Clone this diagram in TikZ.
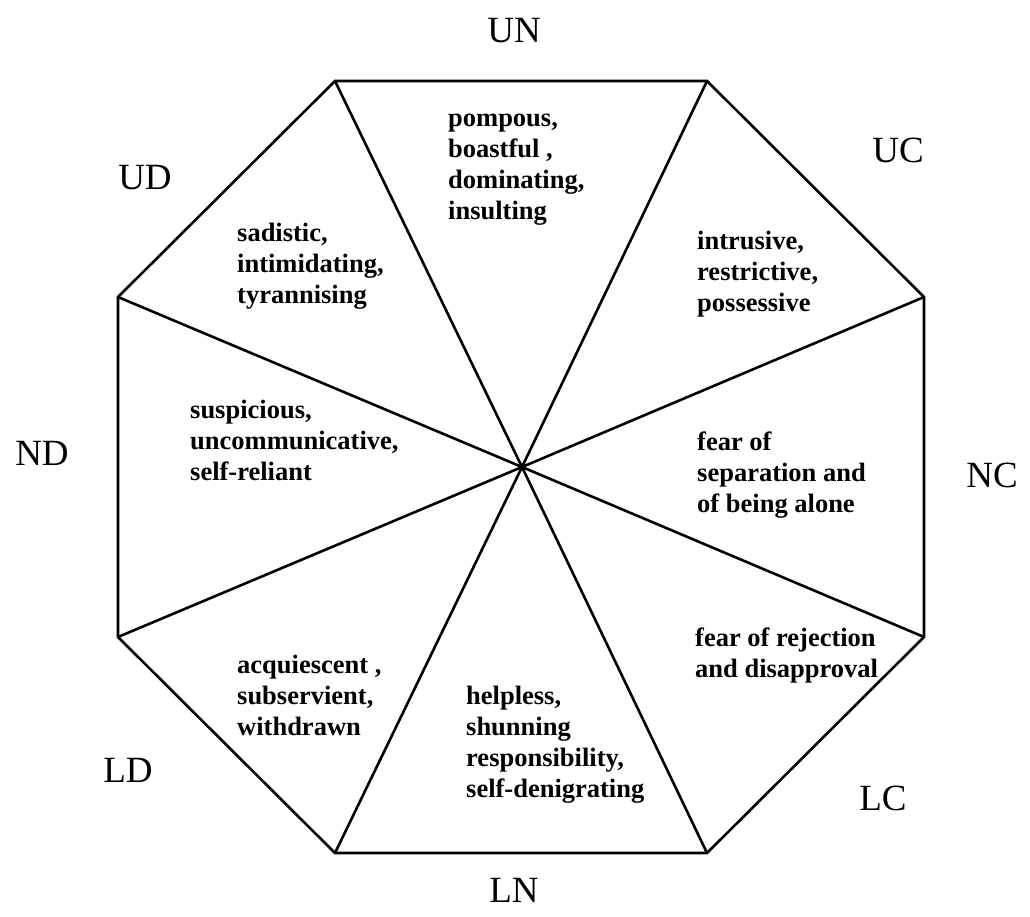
\documentclass[tikz,border=0pt]{standalone}
\usepackage{fontspec}
\setmainfont{Liberation Serif}
\tikzset{
  edge/.style={line width=2.6pt, line join=miter, black},
  dir/.style={font=\fontsize{37}{40}\selectfont, anchor=base, inner sep=0pt},
  trait/.style={font=\fontsize{26.5}{31}\selectfont\bfseries, anchor=base west, inner sep=0pt},
}
\newcommand{\tl}[1]{\begin{tabular}[t]{@{}l@{}}#1\end{tabular}}
\begin{document}
\begin{tikzpicture}[x=1pt,y=-1pt]
\useasboundingbox (0,0) rectangle (1030,916);
\coordinate (c) at (522,467);
\coordinate (v1) at (335,81);
\coordinate (v2) at (707,81);
\coordinate (v3) at (924,297);
\coordinate (v4) at (924,637);
\coordinate (v5) at (707,853);
\coordinate (v6) at (335,853);
\coordinate (v7) at (118,637);
\coordinate (v8) at (118,297);
\draw[edge] (v1) -- (v2) -- (v3) -- (v4) -- (v5) -- (v6) -- (v7) -- (v8) -- cycle;
\foreach \v in {v1,v2,v3,v4,v5,v6,v7,v8} \draw[edge] (c) -- (\v);
% direction labels
\node[dir] (un) at (514,42) {UN};
\node[dir] (uc) at (898,162) {UC};
\node[dir] (nc) at (992,487) {NC};
\node[dir] (lc) at (883,810) {LC};
\node[dir] (ln) at (514,902) {LN};
\node[dir] (ld) at (128,782) {LD};
\node[dir] (nd) at (42,465) {ND};
\node[dir] (ud) at (145,189) {UD};
% traits
\node[trait] (t1) at (448,126) {\tl{pompous,\\boastful ,\\dominating,\\insulting}};
\node[trait] (t2) at (697,249) {\tl{intrusive,\\restrictive,\\possessive}};
\node[trait] (t3) at (697,450) {\tl{fear of\\separation and\\of being alone}};
\node[trait] (t4) at (695,646) {\tl{fear of rejection\\and disapproval}};
\node[trait] (t5) at (466,704) {\tl{helpless,\\shunning\\responsibility,\\self-denigrating}};
\node[trait] (t6) at (237,673) {\tl{acquiescent ,\\subservient,\\withdrawn}};
\node[trait] (t7) at (190,418) {\tl{suspicious,\\uncommunicative,\\self-reliant}};
\node[trait] (t8) at (237,241) {\tl{sadistic,\\intimidating,\\tyrannising}};
\end{tikzpicture}
\end{document}
